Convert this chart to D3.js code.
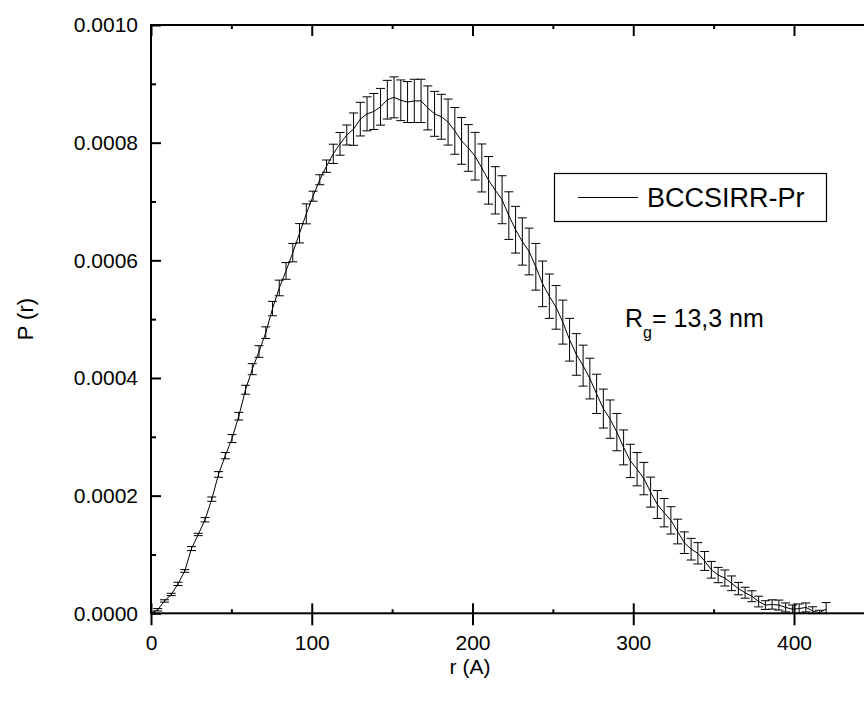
<!DOCTYPE html>
<html>

<head>
    <title>P(r)</title>
    <script src="https://d3js.org/d3.v7.min.js"></script>
    <style>
        body {
            margin: 0;
            background: #fff;
        }

        svg text {
            font-family: Arial, "Liberation Sans", sans-serif;
            fill: #000;
        }

        .tick line {
            stroke: #000;
            stroke-width: 2px;
        }
    </style>
</head>

<body>
    <div id="graph"></div>
    <script>
        // r step is 4.2 A, 101 points from 0 to 420
        const rValues = d3.range(0, 101).map(i => +(i * 4.2).toFixed(1));

        // P(r) (x 1e-4)
        const pValues = [
            0.00, 0.06, 0.21, 0.32, 0.50, 0.72, 1.10, 1.34, 1.59, 1.94,
            2.36, 2.68, 2.97, 3.35, 3.80, 4.15, 4.45, 4.77, 5.18, 5.53,
            5.82, 6.13, 6.46, 6.79, 7.09, 7.37, 7.60, 7.81, 7.98, 8.13,
            8.23, 8.40, 8.49, 8.53, 8.61, 8.73, 8.77, 8.72, 8.69, 8.71,
            8.71, 8.59, 8.49, 8.44, 8.35, 8.20, 8.03, 7.91, 7.77, 7.57,
            7.36, 7.19, 7.03, 6.76, 6.52, 6.32, 6.15, 5.89, 5.60, 5.39,
            5.20, 4.95, 4.65, 4.40, 4.21, 3.99, 3.73, 3.48, 3.30, 3.08,
            2.82, 2.59, 2.45, 2.29, 2.06, 1.85, 1.71, 1.58, 1.39, 1.20,
            1.09, 1.02, 0.89, 0.74, 0.65, 0.60, 0.51, 0.42, 0.35, 0.29,
            0.20, 0.14, 0.15, 0.14, 0.10, 0.07, 0.08, 0.10, 0.04, 0.01,
            0.07
        ];

        // error half width (x 1e-5)
        const pErrors = [
            0.20, 0.20, 0.20, 0.20, 0.28, 0.23, 0.34, 0.20, 0.37, 0.37,
            0.48, 0.54, 0.68, 0.65, 0.76, 0.94, 0.99, 0.99, 1.22, 1.33,
            1.42, 1.56, 1.64, 1.70, 0.85, 0.85, 1.05, 1.64, 1.93, 1.70,
            2.75, 2.86, 2.89, 3.06, 3.12, 3.29, 3.48, 3.46, 3.48, 3.68,
            3.68, 3.74, 3.82, 3.82, 3.91, 3.97, 3.97, 3.97, 4.05, 4.08,
            4.05, 4.02, 4.08, 4.05, 3.97, 4.02, 3.97, 3.97, 3.88, 3.77,
            3.71, 3.74, 3.63, 3.54, 3.48, 3.46, 3.34, 3.31, 3.26, 3.17,
            2.97, 2.83, 2.83, 2.75, 2.55, 2.38, 2.41, 2.32, 2.10, 1.84,
            1.84, 1.81, 1.61, 1.42, 1.30, 1.36, 1.25, 1.05, 0.93, 0.93,
            0.91, 0.74, 0.79, 0.85, 0.76, 0.71, 0.79, 0.76, 0.71, 0.42,
            1.13
        ];

        const xMajor = [0, 100, 200, 300, 400];
        const xMinor = [50, 150, 250, 350];
        const yMajor = [0, 0.0002, 0.0004, 0.0006, 0.0008, 0.0010];
        const yMinor = [0.0001, 0.0003, 0.0005, 0.0007, 0.0009];

        const seriesName = "BCCSIRR-Pr";
        const xTitle = "r (A)";
        const yTitle = "P (r)";

        const data = rValues.map((r, i) => ({ r: r, p: pValues[i] * 1e-4, e: pErrors[i] * 1e-5 }));

        const W = 864, H = 702;
        const plotLeft = 151, plotTop = 25, plotBottom = 613.3;

        const x = d3.scaleLinear().domain([0, 450]).range([plotLeft, plotLeft + 450 * 1.6075]);
        const y = d3.scaleLinear().domain([0, 0.001]).range([plotBottom, plotTop]);
        const plotRight = x(450);

        const svg = d3.select("#graph").append("svg")
            .attr("width", W)
            .attr("height", H);

        svg.append("defs").append("clipPath")
            .attr("id", "plotclip")
            .append("rect")
            .attr("x", plotLeft)
            .attr("y", plotTop)
            .attr("width", plotRight - plotLeft)
            .attr("height", plotBottom - plotTop + 1);

        // error bars
        const capW = 4.5;
        const bars = svg.append("g")
            .attr("clip-path", "url(#plotclip)")
            .attr("stroke", "#000")
            .attr("stroke-width", 1)
            .selectAll("g")
            .data(data)
            .enter().append("g");

        bars.append("line")
            .attr("x1", d => x(d.r)).attr("x2", d => x(d.r))
            .attr("y1", d => y(d.p - d.e)).attr("y2", d => y(d.p + d.e));
        bars.append("line")
            .attr("x1", d => x(d.r) - capW).attr("x2", d => x(d.r) + capW)
            .attr("y1", d => y(d.p + d.e)).attr("y2", d => y(d.p + d.e));
        bars.append("line")
            .attr("x1", d => x(d.r) - capW).attr("x2", d => x(d.r) + capW)
            .attr("y1", d => y(d.p - d.e)).attr("y2", d => y(d.p - d.e));

        // curve
        svg.append("path")
            .datum(data)
            .attr("clip-path", "url(#plotclip)")
            .attr("fill", "none")
            .attr("stroke", "#000")
            .attr("stroke-width", 1)
            .attr("d", d3.line().x(d => x(d.r)).y(d => y(d.p)));

        // axes
        function clean(g) {
            g.select(".domain").remove();
        }

        // bottom: labels + outward part of major ticks
        svg.append("g")
            .attr("transform", "translate(0," + plotBottom + ")")
            .call(d3.axisBottom(x).tickValues(xMajor).tickSize(12).tickPadding(10).tickFormat(d3.format("d")))
            .call(clean)
            .selectAll("text").attr("font-size", 21).attr("font-family", null);
        svg.append("g")
            .attr("transform", "translate(0," + plotBottom + ")")
            .call(d3.axisTop(x).tickValues(xMajor).tickSize(10).tickFormat(""))
            .call(clean);
        svg.append("g")
            .attr("transform", "translate(0," + plotBottom + ")")
            .call(d3.axisTop(x).tickValues(xMinor).tickSize(4).tickFormat(""))
            .call(clean);

        // top
        svg.append("g")
            .attr("transform", "translate(0," + plotTop + ")")
            .call(d3.axisBottom(x).tickValues(xMajor).tickSize(11).tickFormat(""))
            .call(clean);
        svg.append("g")
            .attr("transform", "translate(0," + plotTop + ")")
            .call(d3.axisBottom(x).tickValues(xMinor).tickSize(4).tickFormat(""))
            .call(clean);

        // left
        svg.append("g")
            .attr("transform", "translate(" + plotLeft + ",0)")
            .call(d3.axisLeft(y).tickValues(yMajor).tickSize(0).tickPadding(13).tickFormat(d3.format(".4f")))
            .call(clean)
            .selectAll("text").attr("font-size", 21).attr("font-family", null);
        svg.append("g")
            .attr("transform", "translate(" + plotLeft + ",0)")
            .call(d3.axisRight(y).tickValues(yMajor).tickSize(10).tickFormat(""))
            .call(clean);
        svg.append("g")
            .attr("transform", "translate(" + plotLeft + ",0)")
            .call(d3.axisRight(y).tickValues(yMinor).tickSize(5).tickFormat(""))
            .call(clean);

        // right
        svg.append("g")
            .attr("transform", "translate(" + plotRight + ",0)")
            .call(d3.axisLeft(y).tickValues(yMajor).tickSize(10).tickFormat(""))
            .call(clean);
        svg.append("g")
            .attr("transform", "translate(" + plotRight + ",0)")
            .call(d3.axisLeft(y).tickValues(yMinor).tickSize(5).tickFormat(""))
            .call(clean);

        // frame
        svg.append("rect")
            .attr("x", plotLeft)
            .attr("y", plotTop)
            .attr("width", plotRight - plotLeft)
            .attr("height", plotBottom - plotTop)
            .attr("fill", "none")
            .attr("stroke", "#000")
            .attr("stroke-width", 2);

        // axis titles
        svg.append("text")
            .attr("x", 470)
            .attr("y", 674)
            .attr("text-anchor", "middle")
            .attr("font-size", 21)
            .text(xTitle);

        svg.append("text")
            .attr("transform", "translate(33," + ((plotTop + plotBottom) / 2) + ") rotate(-90)")
            .attr("text-anchor", "middle")
            .attr("font-size", 22)
            .text(yTitle);

        // legend
        const legend = svg.append("g");
        legend.append("rect")
            .attr("x", 554.5).attr("y", 173.5)
            .attr("width", 272).attr("height", 48)
            .attr("fill", "#fff")
            .attr("stroke", "#000")
            .attr("stroke-width", 1.2);
        legend.append("line")
            .attr("x1", 578).attr("x2", 638)
            .attr("y1", 197.5).attr("y2", 197.5)
            .attr("stroke", "#000")
            .attr("stroke-width", 1);
        legend.append("text")
            .attr("x", 647)
            .attr("y", 207)
            .attr("font-size", 27)
            .text(seriesName);

        // radius of gyration note
        const note = svg.append("text")
            .attr("x", 625)
            .attr("y", 327)
            .attr("font-size", 25);
        note.append("tspan").text("R");
        note.append("tspan").attr("dy", 11).attr("font-size", 16).text("g");
        note.append("tspan").attr("dy", -11).text("= 13,3 nm");
    </script>
</body>

</html>
